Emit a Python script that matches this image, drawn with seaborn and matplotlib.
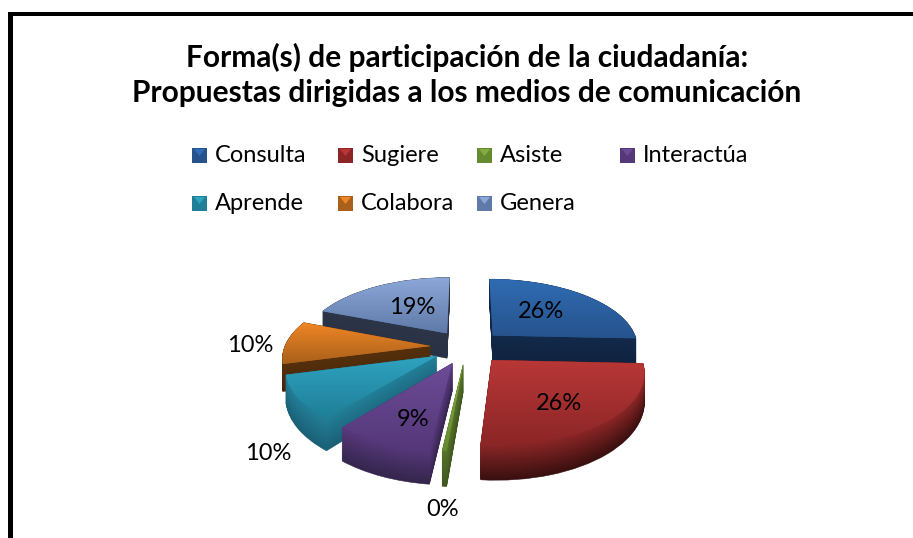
import numpy as np
import matplotlib
matplotlib.use("Agg")
import matplotlib.pyplot as plt
from matplotlib.colors import to_rgb
from matplotlib.patches import Rectangle, Polygon
from matplotlib.transforms import Transform
import seaborn as sns

categorias = ["Consulta", "Sugiere", "Asiste", "Interactúa", "Aprende", "Colabora", "Genera"]
valores = [25.6, 25.6, 0.4, 9, 10, 10, 19]
titulo = "Forma(s) de participación de la ciudadanía:\nPropuestas dirigidas a los medios de comunicación"

# colores: cara superior (arriba, abajo) y pared (arriba, abajo)
cara_a = ["#2f6cb3", "#b93737", "#84ad3f", "#6c4c96", "#2fa3c0", "#f08625", "#8ca8d8"]
cara_b = ["#27538d", "#8c2626", "#668a30", "#55387a", "#1f7f98", "#a9601b", "#5f7aa8"]
pared_a = ["#12294a", "#8a2626", "#55732a", "#57397c", "#227f98", "#54300c", "#2c3548"]
pared_b = ["#10233f", "#3a0f0f", "#3f5520", "#35254c", "#1a6076", "#4a2608", "#293245"]
orden = [0, 6, 5, 4, 1, 3, 2]  # de atras hacia delante
separacion = [0.25, 0.25, 0.25, 0.25, 0.24, 0.25, 0.25]

# posiciones de las etiquetas en pixeles
etiquetas_xy = [(541, 312), (559, 403), (443, 510), (413, 419), (268, 453), (250, 345), (412, 307)]
leyenda_x = [192, 338, 477, 620, 192, 338, 477]
leyenda_y = [155, 155, 155, 155, 203, 203, 203]

CX, CY, RX, RY, K, PROF = 467, 347, 146, 68, 0.15, 26


class Perspectiva(Transform):
    """Pasa el plano de la torta a pixeles, con perspectiva y altura z."""
    input_dims = 2
    output_dims = 2
    is_affine = False

    def __init__(self, z=0.0):
        super().__init__()
        self.z = z

    def transform_non_affine(self, values):
        u, v = values[:, 0], values[:, 1]
        s = 1 / (1 + K * v)
        return np.column_stack([CX + RX * u * s, CY - RY * v * s + self.z * PROF * s ** 1.5])


def mezcla(c1, c2, t):
    return tuple((1 - t) * np.array(to_rgb(c1)) + t * np.array(to_rgb(c2)))


sns.set_theme(style="white")
plt.rcParams["font.family"] = ["Lato", "DejaVu Sans"]

fig = plt.figure(figsize=(9.13, 5.38), dpi=100, facecolor="white")
ax = fig.add_axes([0, 0, 1, 1])

# paredes: copias de la torta apiladas desde abajo
capas = np.linspace(1, 0, 40)
for n, z in enumerate(capas):
    cunas, _ = ax.pie(valores, explode=separacion, startangle=90, counterclock=False, radius=1)
    for i, cuna in enumerate(cunas):
        col = mezcla(pared_a[i], pared_b[i], z)
        cuna.set_facecolor(col)
        cuna.set_edgecolor(col)
        cuna.set_linewidth(0.4)
        cuna.set_transform(Perspectiva(z) + ax.transData)
        cuna.set_zorder(10 + orden.index(i) * 100 + n)

# caras superiores con degradado
cunas, _ = ax.pie(valores, explode=separacion, startangle=90, counterclock=False, radius=1)
for i, cuna in enumerate(cunas):
    p = Perspectiva(0)
    cuna.set_transform(p + ax.transData)
    cuna.set_facecolor(cara_b[i])
    cuna.set_edgecolor("none")
    zo = 60 + orden.index(i) * 100
    cuna.set_zorder(zo)
    caja = (cuna.get_patch_transform() + p).transform_path(cuna.get_path()).get_extents()
    grad = np.array([mezcla(cara_a[i], cara_b[i], t) for t in np.linspace(0, 1, 64)])[:, None, :]
    im = ax.imshow(grad, extent=(caja.x0, caja.x1, caja.y1, caja.y0), origin="upper",
                   aspect="auto", zorder=zo + 1)
    im.set_clip_path(cuna)

ax.set_aspect("auto")
ax.set_xlim(0, 913)
ax.set_ylim(538, 0)
ax.axis("off")

# porcentajes
total = sum(valores)
for v, (x, y) in zip(valores, etiquetas_xy):
    ax.text(x, y, f"{v / total * 100:.0f}%", ha="center", va="center", fontsize=17,
            color="black", zorder=2000)

# leyenda
for i, nombre in enumerate(categorias):
    x, y = leyenda_x[i], leyenda_y[i]
    ax.add_patch(Rectangle((x, y - 7), 15, 15, facecolor=cara_b[i], edgecolor="none", zorder=2000))
    ax.add_patch(Polygon([(x + 2, y - 6), (x + 13, y - 6), (x + 7.5, y + 1)],
                         facecolor=cara_a[i], edgecolor="none", zorder=2001))
    ax.text(x + 23, y, nombre, ha="left", va="center", fontsize=17, color="black", zorder=2000)

# titulo y marco
ax.text(467, 75, titulo, ha="center", va="center", fontsize=21.5, fontweight="bold",
        color="black", linespacing=1.33, zorder=2000)
ax.add_patch(Rectangle((8, 12), 5, 530, facecolor="black", edgecolor="none", zorder=2000))
ax.add_patch(Rectangle((8, 12), 910, 4, facecolor="black", edgecolor="none", zorder=2000))

fig.savefig("out.png", dpi=100, facecolor="white")
